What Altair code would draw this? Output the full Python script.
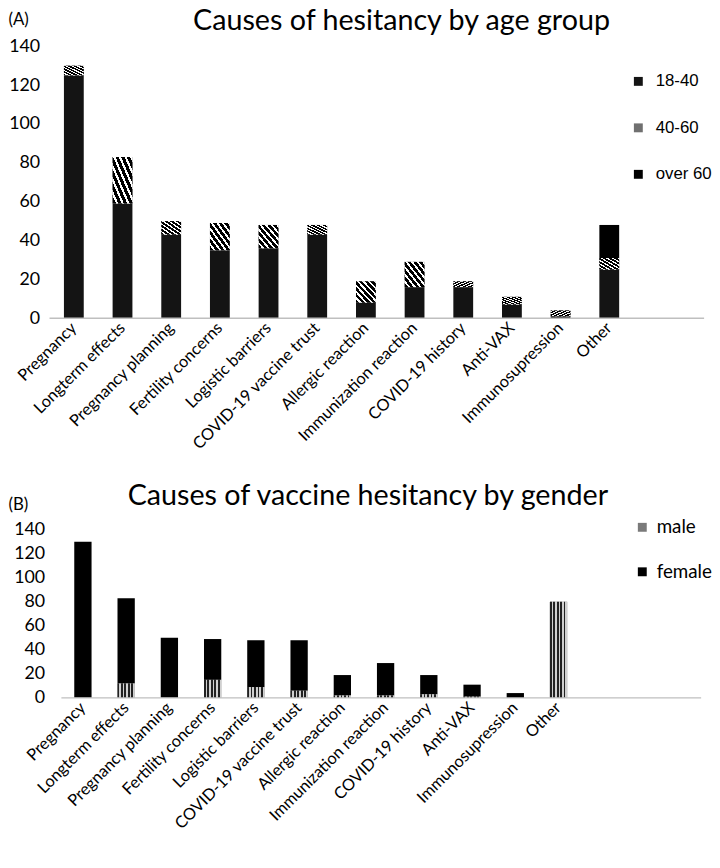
import altair as alt
import pandas as pd

# ---- data ----
categories = ["Pregnancy", "Longterm effects", "Pregnancy planning", "Fertility concerns",
              "Logistic barriers", "COVID-19 vaccine trust", "Allergic reaction",
              "Immunization reaction", "COVID-19 history", "Anti-VAX", "Immunosupression", "Other"]

age_groups = ["18-40", "40-60", "over 60"]
age_18_40 = [125, 59, 43, 35, 36, 43, 8, 16, 16, 7, 1, 25]
age_40_60 = [5, 24, 7, 14, 12, 5, 11, 13, 3, 4, 3, 6]
age_over_60 = [0, 0, 0, 0, 0, 0, 0, 0, 0, 0, 0, 17]

genders = ["male", "female"]
male = [0, 12, 0, 15, 9, 6, 2, 2, 3, 1, 0, 80]
female = [130, 71, 50, 34, 39, 42, 17, 27, 16, 10, 4, 0]

y_ticks = [0, 20, 40, 60, 80, 100, 120, 140]

rows_a = []
for i, c in enumerate(categories):
    for j, (g, vals) in enumerate(zip(age_groups, [age_18_40, age_40_60, age_over_60])):
        rows_a.append({"cause": c, "group": g, "order": j, "value": vals[i]})
df_a = pd.DataFrame(rows_a)

rows_b = []
for i, c in enumerate(categories):
    for j, (g, vals) in enumerate(zip(genders, [male, female])):
        rows_b.append({"cause": c, "group": g, "order": j, "value": vals[i]})
df_b = pd.DataFrame(rows_b)


def stripes(n, c1, c2, frac, x1, y1, x2, y2):
    stops = []
    for k in range(n):
        a = k / n
        b = (k + frac) / n
        c = (k + 1) / n
        stops += [alt.GradientStop(offset=a, color=c1), alt.GradientStop(offset=b, color=c1),
                  alt.GradientStop(offset=b, color=c2), alt.GradientStop(offset=c, color=c2)]
    return alt.LinearGradient(gradient="linear", stops=stops, x1=x1, y1=y1, x2=x2, y2=y2)


FONT = "Lato"


def x_enc(pi, po, al):
    return alt.X("cause:N", sort=categories,
                 scale=alt.Scale(paddingInner=pi, paddingOuter=po, align=al),
                 axis=alt.Axis(title=None, labelAngle=-45, labelAlign="right", labelBaseline="middle",
                               labelFont=FONT, labelFontSize=16.5, labelColor="black",
                               ticks=False, domain=False, labelPadding=7, labelOverlap=False))


def y_enc(tag, title_x, title_y, label_pad):
    return alt.Y("y0:Q", scale=alt.Scale(domain=[0, 140], nice=False),
                 axis=alt.Axis(values=y_ticks, title=tag, titleAngle=0, titleX=title_x, titleY=title_y,
                               titleAlign="left", titleBaseline="middle", titleFont=FONT,
                               titleFontSize=17, titleFontWeight="normal", titleColor="black",
                               labelFont=FONT, labelFontSize=18, labelColor="black", labelOverlap=False,
                               labelFlush=False, domain=False, ticks=False, grid=False,
                               labelPadding=label_pad))


def baseline(x_start, x_end, h):
    return alt.Chart(pd.DataFrame({"k": [0]})).mark_rule(color="#bfbfbf", strokeWidth=1.5).encode(
        x=alt.value(x_start), x2=alt.value(x_end), y=alt.value(h)
    )


# ---- Panel A ----
WA, HA = 660, 275
xa = x_enc(0.593, 1.0, 0.148)
ya = y_enc("(A)", -42, -27, 10)
base_a = alt.Chart(df_a).transform_stack(
    stack="value", groupby=["cause"], as_=["y0", "y1"], sort=[alt.SortField("order")]
)
bars_a = base_a.mark_bar().encode(
    x=xa, y=ya, y2="y1:Q",
    color=alt.Color("group:N", scale=alt.Scale(domain=age_groups, range=["#141414", "#707070", "#000000"]),
                    legend=alt.Legend(title=None, orient="none", legendX=587, legendY=27, padding=0,
                                      labelFont="Liberation Sans", labelFontSize=17, labelColor="black",
                                      symbolType="square", symbolSize=81, symbolStrokeWidth=0,
                                      rowPadding=29, labelOffset=9)),
)
hatch_a = base_a.transform_filter(alt.datum.group == "40-60").mark_bar(
    color=stripes(7, "#000000", "#ffffff", 0.6, 0, 1, 1, 0)
).encode(x=xa, y=ya, y2="y1:Q")
panel_a = alt.layer(bars_a, hatch_a, baseline(0, 662, HA)).properties(
    width=WA, height=HA,
    title=alt.TitleParams("Causes of hesitancy by age group", font=FONT, fontSize=29,
                          fontWeight="normal", color="black", anchor="middle", frame="group",
                          dx=26, offset=-26),
)

# ---- Panel B ----
WB, HB = 586, 170
xb = x_enc(0.60, 1.0, 0.286)
yb = y_enc("(B)", -42, -26, 5)
base_b = alt.Chart(df_b).transform_stack(
    stack="value", groupby=["cause"], as_=["y0", "y1"], sort=[alt.SortField("order")]
)
bars_b = base_b.mark_bar().encode(
    x=xb, y=yb, y2="y1:Q",
    color=alt.Color("group:N", scale=alt.Scale(domain=genders, range=["#7a7a7a", "#000000"]),
                    legend=alt.Legend(title=None, orient="none", legendX=590, legendY=-12, padding=0,
                                      labelFont=FONT, labelFontSize=19, labelColor="black",
                                      symbolType="square", symbolSize=81, symbolStrokeWidth=0,
                                      rowPadding=25, labelOffset=5)),
)
tex_b = base_b.transform_filter(alt.datum.group == "male").mark_bar(
    color=stripes(5, "#222222", "#d0d0d0", 0.5, 0, 0, 1, 0)
).encode(x=xb, y=yb, y2="y1:Q")
panel_b = alt.layer(bars_b, tex_b, baseline(12, 659, HB)).properties(
    width=WB, height=HB,
    title=alt.TitleParams("Causes of vaccine hesitancy by gender", font=FONT, fontSize=29,
                          fontWeight="normal", color="black", anchor="middle", frame="group",
                          dx=29, offset=-16),
)

chart = alt.vconcat(panel_a, panel_b, spacing=30).resolve_scale(color="independent").properties(
    padding={"top": -5, "left": 0, "right": 0, "bottom": 0}
).configure_view(stroke=None)

chart.save("out.html", embed_options={"renderer": "svg", "actions": False})
